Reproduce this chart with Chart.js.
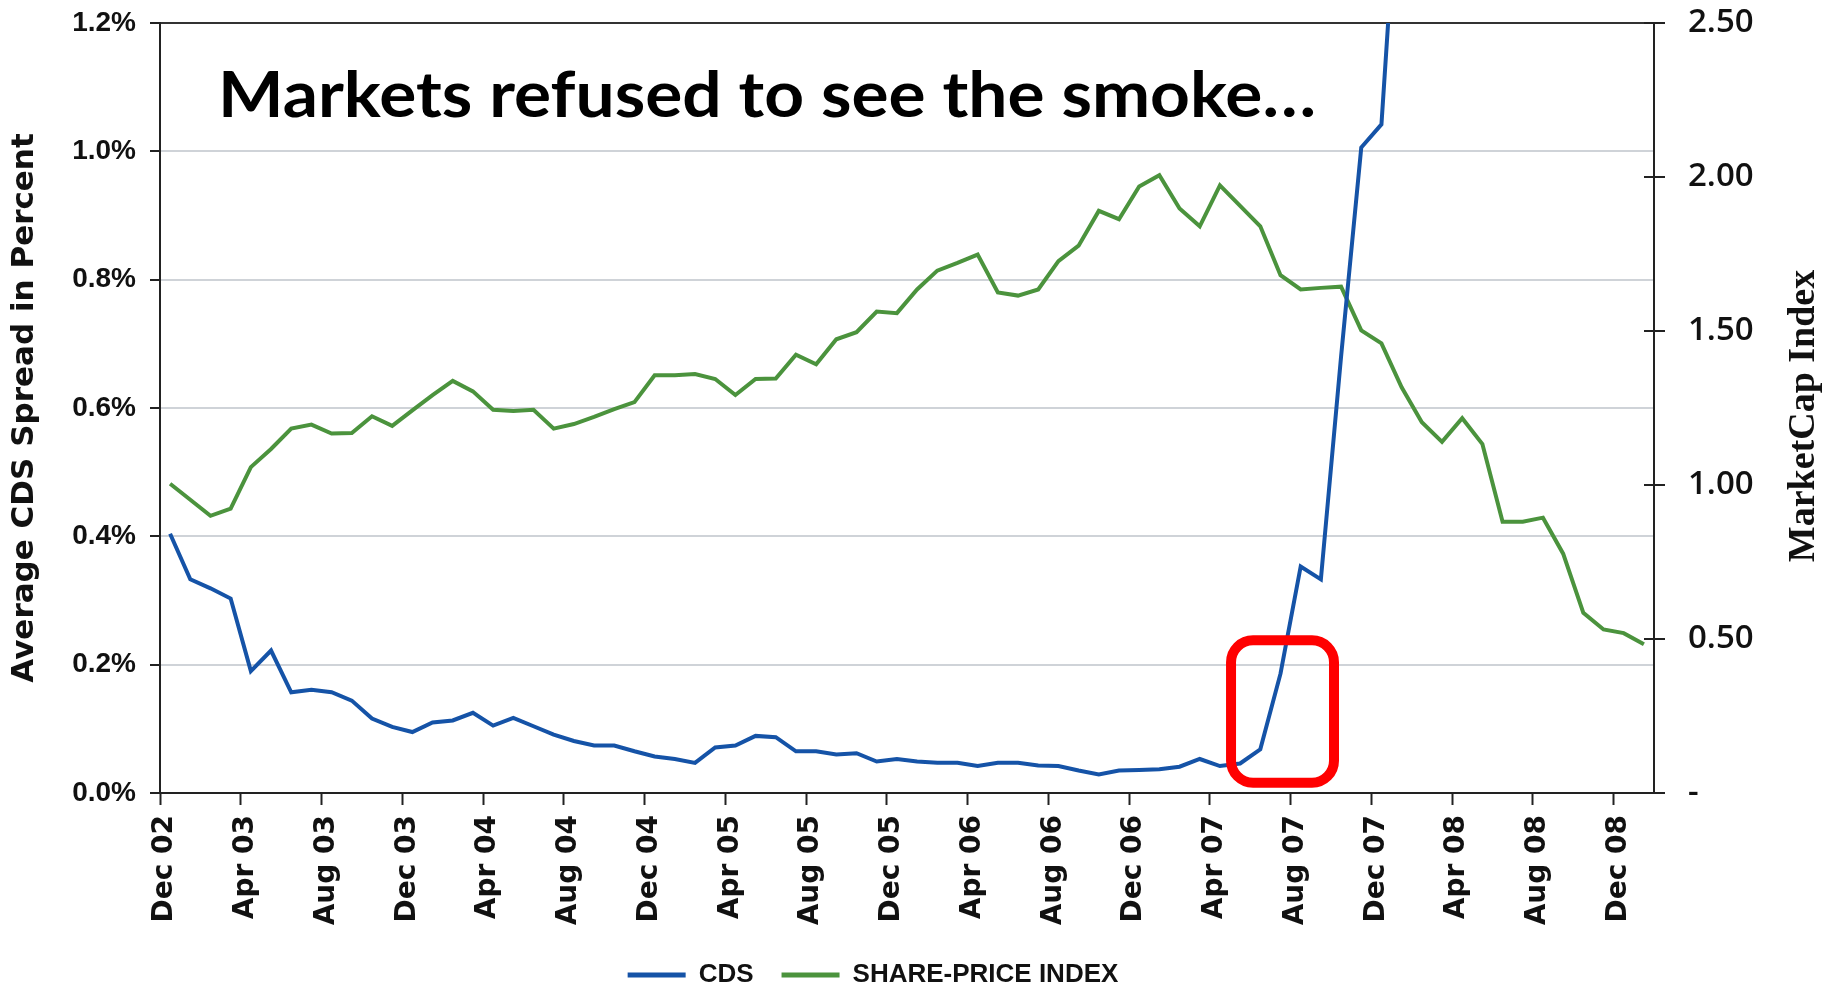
<!DOCTYPE html>
<html>
<head>
<meta charset="utf-8">
<script src="https://cdn.jsdelivr.net/npm/chart.js@4.4.1/dist/chart.umd.min.js"></script>
<style>
  html, body { margin: 0; padding: 0; background: #fff; }
  canvas { display: block; }
</style>
</head>
<body>
<canvas id="chart" width="1826" height="992"></canvas>
<script>
// Monthly points, Dec 02 .. Jan 09
const months = [
  "Dec 02",
  "Jan 03", "Feb 03", "Mar 03", "Apr 03", "May 03", "Jun 03", "Jul 03", "Aug 03", "Sep 03", "Oct 03", "Nov 03", "Dec 03",
  "Jan 04", "Feb 04", "Mar 04", "Apr 04", "May 04", "Jun 04", "Jul 04", "Aug 04", "Sep 04", "Oct 04", "Nov 04", "Dec 04",
  "Jan 05", "Feb 05", "Mar 05", "Apr 05", "May 05", "Jun 05", "Jul 05", "Aug 05", "Sep 05", "Oct 05", "Nov 05", "Dec 05",
  "Jan 06", "Feb 06", "Mar 06", "Apr 06", "May 06", "Jun 06", "Jul 06", "Aug 06", "Sep 06", "Oct 06", "Nov 06", "Dec 06",
  "Jan 07", "Feb 07", "Mar 07", "Apr 07", "May 07", "Jun 07", "Jul 07", "Aug 07", "Sep 07", "Oct 07", "Nov 07", "Dec 07",
  "Jan 08", "Feb 08", "Mar 08", "Apr 08", "May 08", "Jun 08", "Jul 08", "Aug 08", "Sep 08", "Oct 08", "Nov 08", "Dec 08",
  "Jan 09"
]

// Average CDS spread, percent (left axis) - runs off the top after Dec 07
const cds = [
  0.404,
  0.333, 0.319, 0.303, 0.190, 0.222, 0.157, 0.161, 0.157, 0.144, 0.116, 0.103, 0.095,
  0.110, 0.113, 0.125, 0.105, 0.117, 0.104, 0.091, 0.081, 0.074, 0.074, 0.065, 0.057,
  0.053, 0.047, 0.071, 0.074, 0.089, 0.087, 0.065, 0.065, 0.060, 0.062, 0.049, 0.053,
  0.049, 0.047, 0.047, 0.042, 0.047, 0.047, 0.043, 0.042, 0.035, 0.029, 0.035, 0.036,
  0.037, 0.041, 0.053, 0.042, 0.046, 0.068, 0.186, 0.353, 0.333, 0.680, 1.006, 1.042,
  1.52, null, null, null, null, null, null, null, null, null, null, null,
  null
]

// MarketCap index (right axis)
const shareIndex = [
  1.004,
  0.952, 0.900, 0.923, 1.058, 1.117, 1.183, 1.196, 1.167, 1.169, 1.223, 1.192, 1.242,
  1.292, 1.338, 1.304, 1.244, 1.240, 1.244, 1.183, 1.198, 1.221, 1.246, 1.269, 1.356,
  1.356, 1.360, 1.344, 1.292, 1.344, 1.346, 1.423, 1.392, 1.473, 1.496, 1.563, 1.558,
  1.635, 1.696, 1.721, 1.748, 1.625, 1.615, 1.635, 1.727, 1.777, 1.890, 1.863, 1.969,
  2.006, 1.898, 1.840, 1.973, 1.906, 1.840, 1.681, 1.635, 1.640, 1.644, 1.502, 1.460,
  1.317, 1.204, 1.140, 1.217, 1.133, 0.881, 0.881, 0.894, 0.777, 0.585, 0.531, 0.519,
  0.483
]

const rightTickValues = [0, 0.5, 1, 1.5, 2, 2.5]
const rightTickLabels = ["-", "0.50", "1.00", "1.50", "2.00", "2.50"]

const BLUE = "#1553a7"
const GREEN = "#4b933d"
const AXIS = "#222"

// red box around the summer 2007 take-off, in axis units
const highlight = { x0: 52.55, x1: 57.65, y0: 0.016, y1: 0.238 }

const overlay = {
  id: "overlay",
  afterLayout(chart) {
    // the legend sits a bit left of centre in the original
    const lg = chart.legend
    lg.left -= 40; lg.right -= 40
    lg.top += 6; lg.bottom += 6
  },
  afterDatasetsDraw(chart) {
    const { ctx, scales: { x, y } } = chart
    const l = x.getPixelForValue(highlight.x0)
    const r = x.getPixelForValue(highlight.x1)
    const t = y.getPixelForValue(highlight.y1)
    const b = y.getPixelForValue(highlight.y0)
    ctx.save()
    ctx.strokeStyle = "#ff0000"
    ctx.lineWidth = 10
    ctx.beginPath()
    ctx.roundRect(l, t, r - l, b - t, 22)
    ctx.stroke()
    ctx.restore()
  },
  afterDraw(chart) {
    const { ctx, scales: { y2 } } = chart
    ctx.save()
    // right-axis ticks cross the axis line
    ctx.strokeStyle = AXIS
    ctx.lineWidth = 2
    y2.ticks.forEach((t) => {
      const py = y2.getPixelForValue(t.value)
      ctx.beginPath()
      ctx.moveTo(y2.left - 10, py)
      ctx.lineTo(y2.left, py)
      ctx.stroke()
    })
    // right axis title, reads bottom to top
    ctx.fillStyle = "#111"
    ctx.font = "bold 38px 'Liberation Serif'"
    ctx.textAlign = "center"
    ctx.textBaseline = "middle"
    ctx.translate(1804, 416)
    ctx.rotate(-Math.PI / 2)
    ctx.fillText("MarketCap Index", 0, 0)
    ctx.restore()

    // slide headline over the plot
    const headline = "Markets refused to see the smoke\u2026"
    ctx.save()
    ctx.fillStyle = "#000"
    ctx.font = "bold 64px Lato"
    ctx.textAlign = "left"
    ctx.textBaseline = "alphabetic"
    const w = ctx.measureText(headline).width
    ctx.translate(218, 117)
    ctx.scale(1098 / w, 1)
    ctx.fillText(headline, 0, 0)
    ctx.restore()
  }
}

// y scales: keep the label padding from pushing the plot down
const noVPad = (s) => { s.paddingTop = 0; s.paddingBottom = 0 }

new Chart(document.getElementById("chart"), {
  type: "line",
  data: {
    labels: months,
    datasets: [
      {
        label: "CDS",
        data: cds,
        yAxisID: "y",
        borderColor: BLUE,
        backgroundColor: BLUE,
        borderWidth: 4,
        pointRadius: 0,
        tension: 0
      },
      {
        label: "SHARE-PRICE INDEX",
        data: shareIndex,
        yAxisID: "y2",
        borderColor: GREEN,
        backgroundColor: GREEN,
        borderWidth: 4,
        pointRadius: 0,
        tension: 0
      }
    ]
  },
  options: {
    responsive: false,
    animation: false,
    layout: { padding: { top: 23, left: 0, right: 0, bottom: 0 } },
    plugins: {
      tooltip: { enabled: false },
      legend: {
        position: "bottom",
        labels: {
          boxWidth: 58,
          boxHeight: 5,
          padding: 28,
          color: "#111",
          font: { family: "Liberation Sans", weight: "bold", size: 26 },
          generateLabels: (chart) =>
            Chart.defaults.plugins.legend.labels.generateLabels(chart).map((l) => Object.assign(l, { lineWidth: 0 }))
        }
      }
    },
    scales: {
      x: {
        type: "category",
        offset: true,
        grid: {
          drawOnChartArea: false,
          offset: true,
          tickLength: 12,
          tickWidth: 2,
          tickColor: (c) => (c.index % 4 === 0 ? AXIS : "rgba(0,0,0,0)")
        },
        border: { color: AXIS, width: 2 },
        ticks: {
          autoSkip: false,
          minRotation: 90,
          maxRotation: 90,
          padding: 10,
          labelOffset: -5,
          color: "#111",
          font: { family: "DejaVu Sans", weight: "bold", size: 28 },
          callback: (v, i) => (i % 4 === 0 ? months[i] : "")
        },
        afterFit: (s) => { s.height = 135 }
      },
      y: {
        position: "left",
        min: 0,
        max: 1.2,
        ticks: {
          stepSize: 0.2,
          padding: 14,
          color: "#111",
          font: { family: "Liberation Sans", weight: "bold", size: 28 },
          callback: (v) => v.toFixed(1) + "%"
        },
        grid: {
          color: (c) => (c.tick && c.tick.value > 1.19 ? "#333" : "#cfd3d8"),
          lineWidth: 2,
          tickLength: 10,
          tickColor: AXIS,
          tickWidth: 2
        },
        border: { color: AXIS, width: 2 },
        title: {
          display: true,
          text: "Average CDS Spread in Percent",
          color: "#111",
          font: { family: "DejaVu Sans", weight: "bold", size: 31 },
          padding: { top: 6, bottom: 0 }
        },
        afterFit: (s) => { s.width = 160; noVPad(s) }
      },
      y2: {
        position: "right",
        min: 0,
        max: 2.5,
        afterBuildTicks: (s) => { s.ticks = rightTickValues.map((v) => ({ value: v })) },
        ticks: {
          padding: 23,
          color: "#111",
          font: { family: "Open Sans", weight: "600", size: 33 },
          callback: (v) => rightTickLabels[rightTickValues.indexOf(v)]
        },
        grid: { drawOnChartArea: false, tickLength: 11, color: AXIS, lineWidth: 2 },
        border: { color: AXIS, width: 2 },
        afterFit: (s) => { s.width = 172; noVPad(s) }
      }
    }
  },
  plugins: [overlay]
})
</script>
</body>
</html>
